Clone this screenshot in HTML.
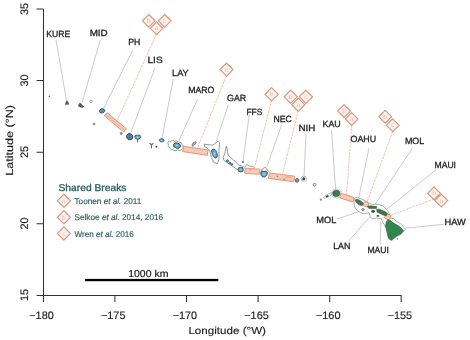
<!DOCTYPE html>
<html><head><meta charset="utf-8">
<style>
html,body{margin:0;padding:0;background:#fff;width:470px;height:340px;overflow:hidden}
svg{display:block;will-change:transform}
text{font-family:"Liberation Sans",sans-serif;text-rendering:geometricPrecision}
.ax{stroke:#333;stroke-width:1.05;fill:none}
.tl{font-size:10.9px;fill:#1e1e1e;stroke:#1e1e1e;stroke-width:0.15}
.lb{font-size:9px;fill:#262626;stroke:#262626;stroke-width:0.32}
.ld{stroke:#bdbdbd;stroke-width:0.8;fill:none}
.od{stroke:#eeaa94;stroke-width:0.75;fill:none;stroke-dasharray:2.5 0.9}
.dm{fill:#fdf2ed;stroke:#d9987f;stroke-width:1.2}
.dl{font-size:6.6px;fill:#e8bcad;text-anchor:middle}
.br{fill:#f8c9b4;stroke:#dc8e74;stroke-width:0.85}
.gi{fill:#3d7a45;stroke:#2c4631;stroke-width:0.5}
.bi{fill:url(#bg);stroke:#2f5a6c;stroke-width:0.9}
.gy{fill:#5e5e5e;stroke:#3c3c3c;stroke-width:0.5}
.ol{fill:#fff;stroke:#626262;stroke-width:0.65}
.lg{font-size:8.4px;fill:#2b5a5e;stroke:#2b5a5e;stroke-width:0.15}
</style></head><body>
<svg width="470" height="340" viewBox="0 0 470 340">
<defs>
<radialGradient id="bg" cx="0.5" cy="0.5" r="0.6"><stop offset="0" stop-color="#9ccfe2"/><stop offset="0.55" stop-color="#66a8c2"/><stop offset="1" stop-color="#3c7890"/></radialGradient>
<radialGradient id="gg" cx="0.5" cy="0.5" r="0.6"><stop offset="0" stop-color="#3f8a4c"/><stop offset="1" stop-color="#356e3e"/></radialGradient>
</defs>
<!-- axes -->
<path class="ax" d="M43.5,9V295.5M36.5,9H43.5M36.5,80.5H43.5M36.5,152.3H43.5M36.5,223.8H43.5M36.5,295.5H401.4M43.5,295V302M114.9,295V302M186.5,295V302M258.1,295V302M329.7,295V302M401.2,295V302"/>
<g class="tl" text-anchor="middle">
<text transform="translate(27.9,9) rotate(-90)">35</text>
<text transform="translate(27.9,80.5) rotate(-90)">30</text>
<text transform="translate(27.9,152) rotate(-90)">25</text>
<text transform="translate(27.9,223.5) rotate(-90)">20</text>
<text transform="translate(27.9,295) rotate(-90)">15</text>
<text x="41.5" y="318.9">−180</text>
<text x="113.2" y="318.9">−175</text>
<text x="184.9" y="318.9">−170</text>
<text x="256.5" y="318.9">−165</text>
<text x="328.2" y="318.9">−160</text>
<text x="399.9" y="318.9">−155</text>
</g>
<text x="188.4" y="333.6" font-size="10.2" fill="#1e1e1e" stroke="#1e1e1e" stroke-width="0.15" textLength="77.6" lengthAdjust="spacingAndGlyphs">Longitude (°W)</text>
<text transform="translate(12.6,140.4) rotate(-90)" font-size="10.4" fill="#1e1e1e" stroke="#1e1e1e" stroke-width="0.15" text-anchor="middle" textLength="70.6" lengthAdjust="spacingAndGlyphs">Latitude (°N)</text>

<!-- scale bar -->
<rect x="85" y="278.9" width="133.3" height="2.3" fill="#000"/>
<text x="128.2" y="276.8" font-size="10" fill="#111" stroke="#111" stroke-width="0.15" textLength="40.2" lengthAdjust="spacingAndGlyphs">1000 km</text>

<!-- leader lines -->
<path class="ld" d="M56,39.6L66.4,100.4M100.2,40.2L82.2,102M132.8,50L103.8,108M154.9,68.2L130.7,133.2M173.2,79.4L162.1,137.9M197.5,99.3L178.7,141.2M228.4,104.8L216.2,141.2M249.3,114.7L242.9,162.1M281.5,125.1L266.7,167.2M306,134L304,176.5M331.5,129.8L335.6,189.6M368.9,148.4L358.5,199M412.4,148L374,206M435.8,169.9L384,211.5M443.8,224.3L405.3,228.2M336.6,219.1L358.9,211.7M348.3,241.5L369.6,217M380.2,244.7L380.9,221.3"/>

<!-- orange dashed lines -->
<path class="od" d="M156.5,34L117,121M226.5,75.6L197.5,148M271.6,100.4L253.9,170M298.3,110.8L282,176M351.6,125L346.5,196M392.7,131.3L366,205M434,199L387,216.6"/>

<!-- outlines -->
<path class="ol" d="M168.5,144.5C167,142.5 168.5,140.8 170.5,141.6C171.5,140.2 173.5,140.5 174.5,141.5C176,140.5 178,141 178.8,142.3C180.5,142 182,143 182.3,144.5C183.8,145.5 183.5,148 182,148.8C181.5,150.5 179,150.8 177.5,150C176,151 173.5,150.6 172.8,149.5C170.8,149.8 169.2,148.5 169.6,147C168,146.6 167.8,145.3 168.5,144.5Z"/>
<path class="ol" d="M204.3,144.2L204.6,146.6L206.7,147.6L209.7,150.5L211.6,157.4L213.5,162.2L217.4,163.7L218.9,159.3L218.9,151.5L219.6,142.8L217.9,141.3L212.6,145.2Z"/>
<path class="ol" d="M226.2,146.2L225,152.6L223.3,157.4L223.9,160.3L229.8,164.4L236.8,169.1L240.4,171.5L243.3,166.5L238.6,165L233.3,159.7L228,155L226.8,146.8Z"/>
<path class="ol" d="M244.5,167.5L246.8,164.6L249.7,166.2L252.7,166.4L254.3,167.6"/>
<path class="ol" d="M261.2,171.5L262.3,169L265.2,167.2L267,169.5L269,171.8"/>
<circle cx="303.7" cy="178.7" r="2.6" fill="#fff" stroke="#888" stroke-width="0.6"/>
<path class="ol" style="stroke:#888;stroke-width:0.6" d="M323.6,197.9C323.4,196.9 325,195.9 327,194.8C329,193.6 331.4,192.3 332.4,193C333,193.9 331.2,195.1 329.2,196.3C327.2,197.4 324.2,198.9 323.6,197.9Z"/>
<path class="ol" d="M331.6,192.4C332.2,189.6 335.2,188.7 338.2,189.1C340.8,189.6 341.6,192.4 340.9,195.2C340,197.8 337,198.4 334.6,197.8C332.3,197.1 331.2,195 331.6,192.4Z" style="stroke:#999;stroke-width:0.5"/>
<path class="ol" style="stroke:#777;stroke-width:0.6" d="M355.9,197.2L361.6,199L368.2,202.5L371.8,204.3L378,204.3L383.2,206L388.5,211.8L389.5,215L391.5,218.4L393.5,218.6L396,221L400.6,223.8L403,226.1L405.5,229.4L403.4,232L400.6,234.5L396,237L392.1,240L389,239L387.4,235L386.3,229L385,226L383.6,223.3L382.2,220.9L381.5,218.8L377,218L372.7,218.8L370.4,217L369.1,212.7L365.5,213.5L363.6,213.8L360.3,212.7L356.5,210L354.2,206L353.8,200Z"/>

<!-- break rectangles -->
<rect class="br" x="-12.6" y="-2.1" width="25.2" height="4.2" transform="translate(115.4,122.3) rotate(40)"/><path d="M-12.2,0.2H12.2" stroke="#e8a58c" stroke-width="0.5" transform="translate(115.5,122.3) rotate(40)"/>
<rect class="br" x="-12.5" y="-2.7" width="25" height="5.4" transform="translate(195.4,150.8) rotate(8.5)"/>
<rect class="br" x="-7.5" y="-2.6" width="15" height="5.2" transform="translate(252.3,171.2) rotate(4)"/>
<rect class="br" x="-12.8" y="-2.8" width="25.6" height="5.6" transform="translate(281.6,177.3) rotate(7.4)"/>
<rect class="br" x="-7" y="-2.4" width="14" height="4.8" rx="1.5" transform="translate(347,197.7) rotate(18)"/>
<rect class="br" x="-2.6" y="-2.2" width="5.2" height="4.4" rx="1.5" transform="translate(366,204.3) rotate(20)"/>
<rect class="br" x="-2.8" y="-2.4" width="5.6" height="4.8" rx="1.5" transform="translate(387.7,216.8) rotate(20)"/>

<!-- NW islands -->
<circle cx="49.4" cy="96.2" r="0.8" fill="#555"/>
<path class="gy" d="M65.3,104.4L66.6,100.8L67.8,101.5L68.8,104.2Z"/>
<path class="gy" d="M78.2,106L79.6,103.2L81.2,103.8L82.4,105.6L84,106.6L82.2,107.4L80.2,107Z"/>
<circle cx="91" cy="101.3" r="1.3" fill="#fff" stroke="#777" stroke-width="0.6"/>
<path class="bi" d="M99.6,111.8C99.3,110 100.6,108.8 102.3,108.8C104.2,108.6 105,110 104.6,111.3C104,112.8 101.8,113.2 100.6,112.9Z" style="fill:#5a8ea6;stroke:#2c4a5b"/>
<circle cx="94" cy="124" r="1.1" fill="#999" stroke="#666" stroke-width="0.4"/>
<circle cx="121.2" cy="133.5" r="1.2" fill="#8a8a8a" stroke="#666" stroke-width="0.3"/>
<path class="bi" d="M126.8,135.2C127.4,133.4 130,133.2 131.6,134.3C133.2,135.5 133.2,137.8 131.8,139.2C130.2,140.3 127.6,139.6 127,138.2C126.6,137.3 126.6,136.2 126.8,135.2Z" style="fill:#4d7f96;stroke:#23414f"/>
<path class="bi" d="M134.8,136.2C135.2,134.8 136.8,134.8 137.6,135.6C138.5,134.6 140.2,134.8 140.6,136.2C141,137.8 139.2,139.3 137.6,139.5C136,139.3 134.5,137.8 134.8,136.2Z"/>
<path d="M137.5,139.5V142.4" stroke="#666" stroke-width="0.9"/>
<path d="M149.4,143.1L151.4,144.7L153.5,143.3M151.4,144.7V148.6" stroke="#6a6a6a" stroke-width="1.1" fill="none"/>
<circle cx="156.5" cy="146.7" r="0.9" fill="#333"/>
<path class="bi" d="M159.2,140.4C159.4,139 161,138.6 162.4,138.8C163.8,139 164.4,140 163.9,141C163.2,141.9 161.2,142 160.2,141.6Z"/>
<ellipse class="bi" cx="177" cy="145.6" rx="3.6" ry="2.6" transform="rotate(18 177 145.6)"/>
<path d="M191.8,145.5L193.2,142.8L195.6,141.5L196.3,142.7L194.5,145L192.8,146.3Z" fill="#8fb3c4" stroke="#555" stroke-width="0.6"/>
<path class="bi" d="M211.6,150.6C211.9,149 213.8,148.6 215,149.6C216.4,150.8 217.4,153.4 217.3,155.8C217.2,157.8 215.8,158.6 214.6,157.8C213.2,156.6 211.4,152.8 211.6,150.6Z"/>
<circle class="bi" cx="227.4" cy="160.9" r="1.1"/>
<circle class="bi" cx="229.8" cy="163" r="0.9"/>
<circle class="bi" cx="231.9" cy="164.4" r="0.8"/>
<ellipse class="bi" cx="240.6" cy="169.6" rx="2.7" ry="2.3"/>
<circle cx="243" cy="162" r="0.9" fill="#444"/>
<path class="bi" d="M260.8,172.2C261.2,171 262.8,170.8 264,171.4C265.4,170.8 267,171.2 267.2,172.6C267.5,174.4 266.3,176.5 264.5,177C262.8,177.2 261.1,176.2 260.9,174.4Z"/>
<circle cx="250.2" cy="169.8" r="0.6" fill="#c0705a"/>
<circle cx="277.4" cy="176.2" r="0.7" fill="#b87060"/>
<circle cx="284.1" cy="179.3" r="0.7" fill="#b87060"/>
<path d="M285.4,177.8L288,176.6L291.7,177.5" stroke="#b07a6a" stroke-width="0.5" fill="none"/>
<path d="M295.4,179.6C295.8,178.4 297.3,178.2 298.4,178.9C299.2,179.7 299,181.4 297.9,182.1C296.8,182.6 295.5,182 295.3,180.9Z" fill="#7b97a4" stroke="#3e5560" stroke-width="0.8"/>
<circle cx="303.7" cy="178.8" r="1.3" fill="#3b4d57" stroke="#2a2a2a" stroke-width="0.4"/>
<circle cx="314.6" cy="184.7" r="1.4" fill="#fff" stroke="#666" stroke-width="0.8"/>

<!-- main islands -->
<circle cx="320.8" cy="199.7" r="1.1" fill="#888"/>
<ellipse cx="327.2" cy="196.2" rx="1.6" ry="0.9" fill="#3a4a44" transform="rotate(-30 327.2 196.2)"/>
<path class="gi" d="M332.6,192.6C333.2,190.6 335.6,189.9 337.8,190.3C339.6,190.8 340.2,192.6 339.8,194.5C339.2,196.3 337,197 335,196.6C333.2,196.1 332.3,194.4 332.6,192.6Z"/>
<path class="gi" d="M355,200.2C355.5,199 357.5,199.1 359.2,200C361,201 362.8,202.2 363.2,203.8C363.3,205.3 361.8,205.8 360.2,205.3C358.5,204.6 356.3,203 355.5,201.6Z"/>
<circle cx="362.9" cy="209.6" r="1.2" fill="#7fb2cc" stroke="#3a4a55" stroke-width="0.5"/>
<path class="gi" d="M367.2,206.2L371,205.8L374,206.3L376.6,206.6L376.4,208.4L372.5,208.6L369,208.5Z"/>
<ellipse cx="373.1" cy="211.4" rx="1.8" ry="1.3" fill="#2c4a3a"/>
<path class="gi" d="M376.4,209.6L379.5,209.2L382.5,210.5L385.5,211.8L387.4,213.8L386.3,215.7L383,215L380,213.5L377.5,212.4Z"/>
<ellipse cx="377.9" cy="215.9" rx="1.4" ry="0.8" fill="#2c4a3a"/>
<path class="gi" style="fill:#2f874b" d="M387.6,219.8L390.4,220.6L394.5,223.6L398.7,226L402,228.8L403.6,230.8L401,233.8L396.2,236.2L392.4,239.4L391.2,240.4L388.6,238L387.4,233L386.4,228.6L385.4,226L386.2,222.2Z"/>
<circle cx="397.3" cy="238.8" r="0.6" fill="#444"/>

<!-- diamonds -->
<g class="dm" transform="translate(0,0.5)">
<polygon points="148.8,14 155.1,20.3 148.8,26.6 142.5,20.3"/>
<polygon points="164.7,14 171,20.3 164.7,26.6 158.4,20.3"/>
<polygon points="156.5,21.5 162.8,27.8 156.5,34.1 150.2,27.8"/>
<polygon points="226.5,62.6 233,69.1 226.5,75.6 220,69.1"/>
<polygon points="271.6,87.2 278.2,93.8 271.6,100.4 265,93.8"/>
<polygon points="290.7,89.7 297.3,96.3 290.7,102.9 284.1,96.3"/>
<polygon points="305.9,89.7 312.5,96.3 305.9,102.9 299.3,96.3"/>
<polygon points="298.3,97.6 304.9,104.2 298.3,110.8 291.7,104.2"/>
<polygon points="344.1,104.2 350.5,110.6 344.1,117 337.7,110.6"/>
<polygon points="351.6,112.1 358,118.5 351.6,124.9 345.2,118.5"/>
<polygon points="385.2,109.8 391.6,116.2 385.2,122.6 378.8,116.2"/>
<polygon points="392.7,118.3 399.1,124.7 392.7,131.1 386.3,124.7"/>
<polygon points="434,186.4 440.4,192.8 434,199.2 427.6,192.8"/>
<polygon points="441.3,193.7 447.7,200.1 441.3,206.5 434.9,200.1"/>
</g>
<g class="dl" transform="translate(0,0.5)">
<text x="148.8" y="22.3">b</text><text x="164.7" y="22.3">c</text><text x="156.5" y="29.8">a</text>
<text x="226.5" y="71.1">c</text><text x="271.6" y="95.8">b</text>
<text x="290.7" y="98.3">b</text><text x="305.9" y="98.3">c</text><text x="298.3" y="106.2">a</text>
<text x="344.1" y="112.6">b</text><text x="351.6" y="120.5">a</text>
<text x="385.2" y="118.2">b</text><text x="392.7" y="126.7">c</text>
<text x="434" y="194.8">b</text><text x="441.3" y="202.1">a</text>
</g>

<!-- labels -->
<g class="lb">
<text x="46.30" y="36.80" textLength="24.00" lengthAdjust="spacingAndGlyphs">KURE</text>
<text x="89.70" y="35.80" textLength="18.00" lengthAdjust="spacingAndGlyphs">MID</text>
<text x="128.30" y="44.60" textLength="12.10" lengthAdjust="spacingAndGlyphs">PH</text>
<text x="147.40" y="63.30" textLength="15.30" lengthAdjust="spacingAndGlyphs">LIS</text>
<text x="172.10" y="76.30" textLength="16.50" lengthAdjust="spacingAndGlyphs">LAY</text>
<text x="188.20" y="92.90" textLength="26.10" lengthAdjust="spacingAndGlyphs">MARO</text>
<text x="227.00" y="100.90" textLength="19.20" lengthAdjust="spacingAndGlyphs">GAR</text>
<text x="246.40" y="114.90" textLength="16.00" lengthAdjust="spacingAndGlyphs">FFS</text>
<text x="273.40" y="121.90" textLength="18.30" lengthAdjust="spacingAndGlyphs">NEC</text>
<text x="298.40" y="130.80" textLength="16.80" lengthAdjust="spacingAndGlyphs">NIH</text>
<text x="322.50" y="127.20" textLength="18.20" lengthAdjust="spacingAndGlyphs">KAU</text>
<text x="350.50" y="141.70" textLength="25.60" lengthAdjust="spacingAndGlyphs">OAHU</text>
<text x="404.90" y="144.30" textLength="19.30" lengthAdjust="spacingAndGlyphs">MOL</text>
<text x="434.50" y="167.80" textLength="21.50" lengthAdjust="spacingAndGlyphs">MAUI</text>
<text x="444.50" y="225.20" textLength="21.20" lengthAdjust="spacingAndGlyphs">HAW</text>
<text x="316.30" y="223.20" textLength="20.00" lengthAdjust="spacingAndGlyphs">MOL</text>
<text x="333.20" y="248.70" textLength="17.20" lengthAdjust="spacingAndGlyphs">LAN</text>
<text x="367.40" y="252.70" textLength="21.50" lengthAdjust="spacingAndGlyphs">MAUI</text>
</g>

<!-- legend -->
<text x="58.5" y="191.3" font-size="9.9" fill="#2b5a60" stroke="#2b5a60" stroke-width="0.3" textLength="68" lengthAdjust="spacingAndGlyphs">Shared Breaks</text>
<g class="dm">
<polygon points="63.9,194.2 70.4,200.8 63.9,207.4 57.4,200.8"/>
<polygon points="63.9,210.7 70.4,217.3 63.9,223.9 57.4,217.3"/>
<polygon points="63.9,226.9 70.4,233.5 63.9,240.1 57.4,233.5"/>
</g>
<g class="dl"><text x="63.9" y="203">a</text><text x="63.9" y="219.5">b</text><text x="63.9" y="235.7">c</text></g>
<g class="lg">
<text x="74.5" y="203.8" textLength="66.8" lengthAdjust="spacingAndGlyphs">Toonen <tspan font-style="italic">et al.</tspan> 2011</text>
<text x="74.5" y="220.3" textLength="88.6" lengthAdjust="spacingAndGlyphs">Selkoe <tspan font-style="italic">et al.</tspan> 2014, 2016</text>
<text x="74.5" y="236.6" textLength="59.3" lengthAdjust="spacingAndGlyphs">Wren <tspan font-style="italic">et al.</tspan> 2016</text>
</g>
</svg>
</body></html>
